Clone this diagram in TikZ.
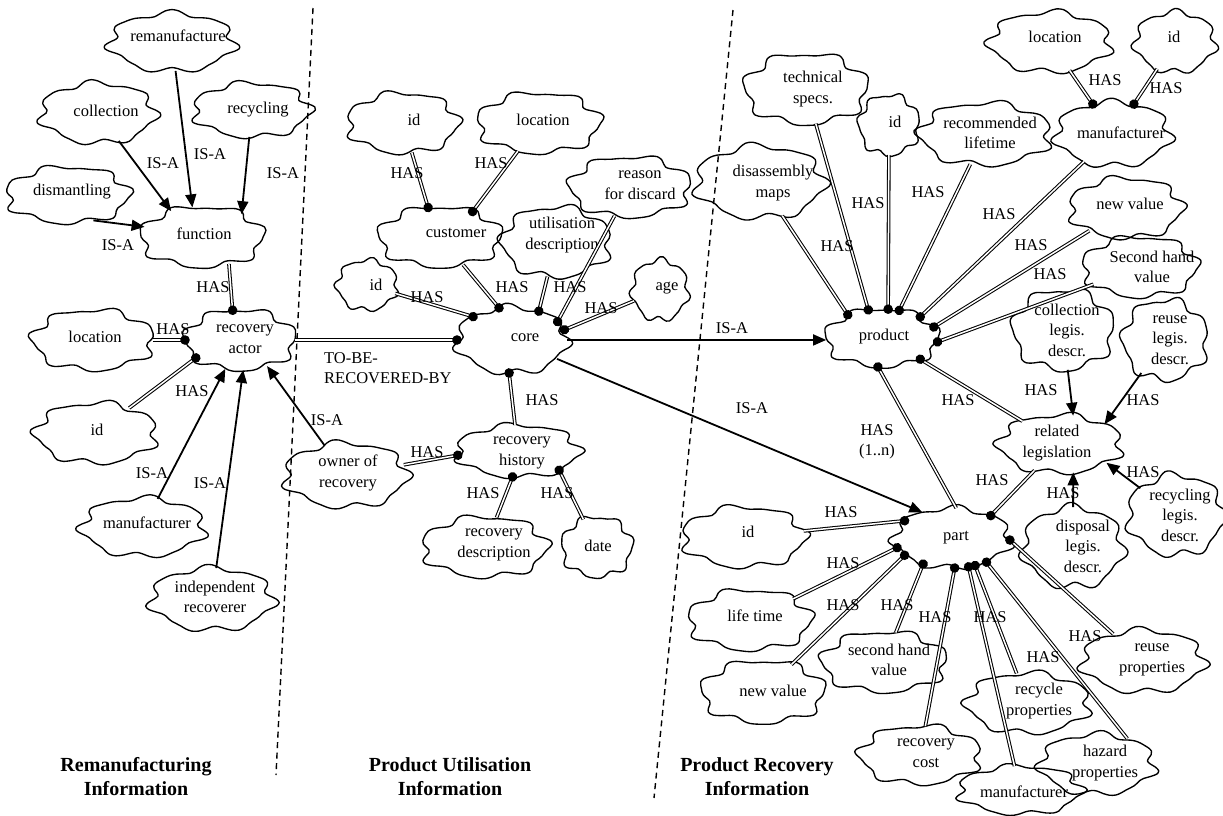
\documentclass[tikz,border=0pt]{standalone}
\usepackage{fontspec}
\setmainfont{Liberation Serif}
\usetikzlibrary{arrows.meta,decorations.markings,shapes.geometric}
\tikzset{
  blobline/.style={draw=black, line width=1.35pt, line join=round},
  blobshape/.style={ellipse, inner sep=0pt, outer sep=0pt},
  blobtext/.style={align=center, inner sep=0pt, font=\fontsize{16.5}{20.5}\selectfont},
  lab/.style={inner sep=0pt, align=center, font=\fontsize{16.5}{20.5}\selectfont},
  titletext/.style={inner sep=0pt, align=center, font=\fontsize{20}{24}\selectfont\bfseries},
  has/.style={double, double distance=1.5pt, line width=1.05pt, postaction={decorate},
    decoration={markings, mark=at position 1 with {\fill[black] (0,0) circle (4.8pt);}}},
  isa/.style={line width=1.8pt, -{Triangle[length=13pt,width=11pt]}},
  divider/.style={dash pattern=on 6pt off 4.5pt, line width=1.4pt},
}
% name, cx, cy, rx, ry, phase, tx, ty, text
\newcommand\blob[9]{%
  \draw[blobline] plot[smooth cycle, samples=60, domain=0:354]
    ({#2+#4*cos(\x)*(1+0.08*sin(7*\x+#6)+0.04*sin(11*\x+2*#6))},
     {#3+#5*sin(\x)*(1+0.08*sin(7*\x+#6)+0.04*sin(11*\x+2*#6))});
  \node[blobshape, minimum width=2*#4pt, minimum height=2*#5pt] (#1) at (#2,#3) {};
  \node[blobtext] (#1t) at (#7,#8) {#9};
}
\begin{document}
\begin{tikzpicture}[x=1pt,y=-1pt]
\useasboundingbox (0,0) rectangle (1223,815);

% ---------- blobs: remanufacturing ----------
\blob{rem}{172}{42}{62}{29}{0}{178}{36}{remanufacture}
\blob{coll}{98}{113}{57}{30}{40}{106}{111}{collection}
\blob{recy}{252}{110}{58}{27}{80}{258}{110}{recycling}
\blob{dism}{68}{195}{61}{28}{120}{72}{192}{dismantling}
\blob{func}{202}{237}{61}{30}{160}{204}{234}{function}
\blob{ract}{240}{340}{55}{30}{200}{245}{339}{recovery\\actor}
\blob{locL}{93}{340}{60}{30}{240}{95}{337}{location}
\blob{idL}{96}{433}{60}{30}{280}{97}{430}{id}
\blob{manL}{143}{527}{61}{29}{320}{147}{523}{manufacturer}
\blob{indep}{212}{599}{61}{31}{20}{215}{597}{independent\\recoverer}
\blob{owner}{346}{475}{61}{32}{60}{348}{473}{owner of\\recovery}

% ---------- blobs: product utilisation ----------
\blob{idM}{403}{123}{55}{30}{100}{414}{120}{id}
\blob{locM}{539}{123}{61}{30}{140}{543}{120}{location}
\blob{cust}{440}{237}{61}{30}{180}{456}{233}{customer}
\blob{reason}{630}{187}{60}{30}{220}{640}{185}{reason\\for discard}
\blob{util}{556}{242}{54}{35}{260}{562}{235}{utilisation\\description}
\blob{idS}{367}{285}{30}{25}{300}{376}{285}{id}
\blob{age}{660}{290}{28}{30}{340}{667}{288}{age}
\blob{core}{512}{340}{55}{33}{30}{525}{338}{core}
\blob{rhist}{518}{451}{61}{26}{70}{522}{453}{recovery\\history}
\blob{rdesc}{485}{547}{62}{30}{110}{494}{545}{recovery\\description}
\blob{date}{597}{547}{35}{30}{150}{598}{546}{date}

% ---------- blobs: product recovery ----------
\blob{tech}{806}{89}{61}{35}{190}{813}{89}{technical\\specs.}
\blob{idR}{889}{125}{30}{30}{230}{895}{122}{id}
\blob{rlife}{985}{134}{65}{31}{270}{990}{133}{recommended\\lifetime}
\blob{locR}{1050}{42}{60}{30}{310}{1055}{37}{location}
\blob{idRR}{1175}{42}{40}{30}{350}{1174}{37}{id}
\blob{manR}{1113}{134}{57}{32}{10}{1121}{133}{manufacturer}
\blob{dis}{760}{182}{64}{36}{50}{773}{183}{disassembly\\maps}
\blob{newR}{1126}{208}{56}{30}{90}{1130}{204}{new value}
\blob{shR}{1140}{267}{57}{30}{130}{1152}{267}{Second hand\\value}
\blob{prod}{882}{338}{56}{29}{170}{884}{337}{product}
\blob{coll2}{1063}{330}{50}{40}{210}{1067}{330}{collection\\legis.\\descr.}
\blob{reuseL}{1165}{340}{42}{40}{250}{1170}{340}{reuse\\legis.\\descr.}
\blob{rel}{1060}{444}{61}{29}{290}{1057}{443}{related\\legislation}
\blob{part}{952}{538}{58}{30}{330}{956}{538}{part}
\blob{disp}{1073}{547}{50}{40}{15}{1083}{546}{disposal\\legis.\\descr.}
\blob{recL}{1176}{515}{48}{40}{55}{1180}{515}{recycling\\legis.\\descr.}
\blob{idP}{744}{537}{61}{30}{95}{748}{532}{id}
\blob{life}{750}{620}{61}{30}{135}{755}{616}{life time}
\blob{newP}{763}{692}{61}{31}{175}{773}{691}{new value}
\blob{shP}{884}{662}{62}{30}{215}{889}{660}{second hand\\value}
\blob{rcost}{920}{755}{60}{29}{255}{926}{753}{recovery\\cost}
\blob{recP}{1028}{703}{61}{30}{295}{1039}{701}{recycle\\properties}
\blob{haz}{1097}{764}{57}{30}{335}{1105}{763}{hazard\\properties}
\blob{reuseP}{1143}{661}{61}{31}{25}{1152}{660}{reuse\\properties}
\blob{manP}{1020}{790}{61}{24}{65}{1024}{792}{manufacturer}

% ---------- dividers ----------
\coordinate (d1a) at (313,8);
\coordinate (d1b) at (276,775);
\coordinate (d2a) at (733,10);
\coordinate (d2b) at (654,798);
\draw[divider] (d1a) -- (d1b);
\draw[divider] (d2a) -- (d2b);

% ---------- connectors: remanufacturing ----------
\draw[isa] (coll) -- (func.140);
\draw[isa] (rem) -- (func.108);
\draw[isa] (recy) -- (func.30);
\draw[isa] (dism.315) -- (func.170);
\draw[has] (func.315) -- (ract.104);
\draw[has] (locL) -- (ract.180);
\draw[has] (idL) -- (ract.202);
\draw[isa] (manL) -- (ract.243);
\draw[isa] (indep) -- (ract.276);
\draw[isa] (owner) -- (ract.316);
\draw[has] (ract) -- (core.180);
\draw[has] (owner) -- (rhist.184);

% ---------- connectors: product utilisation ----------
\draw[has] (idM) -- (cust.112);
\draw[has] (locM) -- (cust.38);
\draw[has] (cust) -- (core.112);
\draw[has] (idS) -- (core.149);
\draw[has] (util) -- (core.47);
\draw[has] (reason) -- (core.22);
\draw[has] (age) -- (core.11);
\draw[has] (rhist) -- (core.265);
\draw[has] (rdesc) -- (rhist.258);
\draw[has] (date) -- (rhist.335);
\draw[isa] (core) -- (prod.182);
\draw[isa] (core) -- (part.139);

% ---------- connectors: product recovery ----------
\draw[has] (dis) -- (prod.146);
\draw[has] (tech) -- (prod.116);
\draw[has] (idR) -- (prod.78);
\draw[has] (rlife) -- (prod.58);
\draw[has] (manR) -- (prod.29);
\draw[has] (newR) -- (prod.12);
\draw[has] (shR) -- (prod.356);
\draw[has] (locR) -- (manR.124);
\draw[has] (idRR) -- (manR.55);
\draw[has] (rel) -- (prod.331);
\draw[has] (part.82) -- (prod.262);
\draw[has] (rel) -- (part.30);
\draw[isa] (coll2) -- (rel.65);
\draw[isa] (reuseL) -- (rel.24);
\draw[isa] (disp) -- (rel.295);
\draw[isa] (recL) -- (rel.338);
\draw[has] (idP) -- (part.160);
\draw[has] (life) -- (part.190);
\draw[has] (newP) -- (part.200);
\draw[has] (shP) -- (part.222);
\draw[has] (rcost) -- (part.275);
\draw[has] (manP) -- (part.300);
\draw[has] (recP) -- (part.310);
\draw[has] (haz.40) -- (part.325);
\draw[has] (reuseP) -- (part.358);

% ---------- connector labels ----------
\node[lab] (l1) at (163,163) {IS-A};
\node[lab] (l2) at (210,154) {IS-A};
\node[lab] (l3) at (283,173) {IS-A};
\node[lab] (l4) at (118,245) {IS-A};
\node[lab] (l5) at (213,287) {HAS};
\node[lab] (l6) at (173,329) {HAS};
\node[lab] (l7) at (192,391) {HAS};
\node[lab] (l8) at (152,473) {IS-A};
\node[lab] (l9) at (210,483) {IS-A};
\node[lab] (l10) at (327,420) {IS-A};
\node[lab] (l11) at (427,452) {HAS};
\node[lab, anchor=west, align=left] (l12) at (324,368) {TO-BE-\\RECOVERED-BY};
\node[lab] (l13) at (407,173) {HAS};
\node[lab] (l14) at (491,163) {HAS};
\node[lab] (l15) at (512,287) {HAS};
\node[lab] (l16) at (570,287) {HAS};
\node[lab] (l17) at (427,297) {HAS};
\node[lab] (l18) at (601,308) {HAS};
\node[lab] (l19) at (542,400) {HAS};
\node[lab] (l20) at (483,493) {HAS};
\node[lab] (l21) at (557,493) {HAS};
\node[lab] (l22) at (732,328) {IS-A};
\node[lab] (l23) at (752,408) {IS-A};
\node[lab] (l24) at (837,246) {HAS};
\node[lab] (l25) at (868,203) {HAS};
\node[lab] (l26) at (928,192) {HAS};
\node[lab] (l27) at (999,214) {HAS};
\node[lab] (l28) at (1031,245) {HAS};
\node[lab] (l29) at (1050,274) {HAS};
\node[lab] (l30) at (1105,80) {HAS};
\node[lab] (l31) at (1166,88) {HAS};
\node[lab] (l32) at (958,400) {HAS};
\node[lab] (l33) at (1041,390) {HAS};
\node[lab] (l34) at (1143,400) {HAS};
\node[lab] (l35) at (877,442) {HAS\\(1..n)};
\node[lab] (l36) at (992,480) {HAS};
\node[lab] (l37) at (1063,493) {HAS};
\node[lab] (l38) at (1143,472) {HAS};
\node[lab] (l39) at (841,512) {HAS};
\node[lab] (l40) at (843,563) {HAS};
\node[lab] (l41) at (843,605) {HAS};
\node[lab] (l42) at (897,605) {HAS};
\node[lab] (l43) at (935,617) {HAS};
\node[lab] (l44) at (990,617) {HAS};
\node[lab] (l45) at (1085,636) {HAS};
\node[lab] (l46) at (1043,657) {HAS};

% ---------- section titles ----------
\node[titletext] (s1) at (136,777) {Remanufacturing\\Information};
\node[titletext] (s2) at (450,777) {Product Utilisation\\Information};
\node[titletext] (s3) at (757,777) {Product Recovery\\Information};
\end{tikzpicture}
\end{document}
